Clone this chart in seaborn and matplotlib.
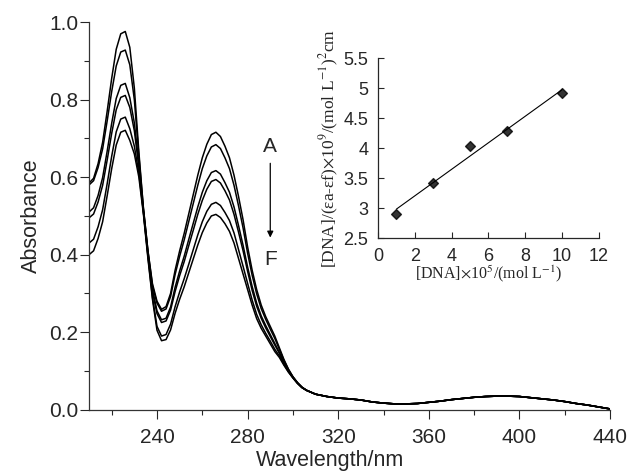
import numpy as np
import pandas as pd
import matplotlib
matplotlib.use('Agg')
import matplotlib.pyplot as plt
from matplotlib.ticker import MultipleLocator, FormatStrFormatter
import seaborn as sns

sns.set_style('ticks')
plt.rcParams['font.family'] = ['Liberation Sans', 'DejaVu Sans']
plt.rcParams['mathtext.fontset'] = 'stix'

# UV spectra, 210-304 nm (each curve) + common tail 306-440 nm
wl_head = [210, 212, 214, 216, 218, 220, 222, 224, 226, 228, 230, 232, 234, 236, 238, 240,
           242, 244, 246, 248, 250, 252, 254, 256, 258, 260, 262, 264, 266, 268, 270, 272,
           274, 276, 278, 280, 282, 284, 286, 288, 290, 292, 294, 296, 298, 300, 302, 304]

abs_A = [0.585, 0.597, 0.635, 0.69, 0.77, 0.855, 0.93, 0.97, 0.976,
         0.935, 0.83, 0.665, 0.52, 0.41, 0.325, 0.28, 0.259,
         0.266, 0.30, 0.36, 0.41, 0.455, 0.505, 0.555, 0.605, 0.65, 0.685, 0.71, 0.716, 0.705,
         0.68, 0.65, 0.605, 0.55, 0.49, 0.42, 0.36, 0.31, 0.27, 0.24, 0.215, 0.19, 0.16, 0.13,
         0.105, 0.085, 0.07, 0.058]
abs_B = [0.58, 0.591, 0.625, 0.673, 0.745, 0.821, 0.887, 0.923, 0.928,
         0.89, 0.80, 0.655, 0.52, 0.41, 0.32, 0.275, 0.254,
         0.26, 0.292, 0.349, 0.396, 0.438, 0.485, 0.532, 0.579, 0.622, 0.655, 0.678, 0.684, 0.674,
         0.65, 0.622, 0.579, 0.526, 0.469, 0.404, 0.347, 0.299, 0.261, 0.233, 0.208, 0.184, 0.156,
         0.128, 0.104, 0.085, 0.07, 0.058]
abs_C = [0.51, 0.521, 0.553, 0.599, 0.667, 0.739, 0.803, 0.837, 0.842,
         0.805, 0.74, 0.635, 0.515, 0.405, 0.31, 0.255, 0.232,
         0.236, 0.265, 0.316, 0.358, 0.396, 0.439, 0.481, 0.523, 0.561, 0.591, 0.612, 0.617, 0.608,
         0.586, 0.561, 0.523, 0.475, 0.424, 0.368, 0.318, 0.275, 0.242, 0.217, 0.194, 0.171, 0.148,
         0.123, 0.101, 0.084, 0.069, 0.058]
abs_D = [0.495, 0.505, 0.536, 0.579, 0.644, 0.713, 0.774, 0.806, 0.811,
         0.78, 0.72, 0.625, 0.51, 0.40, 0.305, 0.248, 0.225,
         0.229, 0.257, 0.305, 0.346, 0.382, 0.423, 0.463, 0.504, 0.54, 0.569, 0.589, 0.594, 0.585,
         0.565, 0.541, 0.504, 0.458, 0.41, 0.357, 0.308, 0.267, 0.236, 0.211, 0.189, 0.167, 0.146,
         0.121, 0.10, 0.083, 0.069, 0.057]
abs_E = [0.43, 0.44, 0.472, 0.516, 0.583, 0.654, 0.717, 0.75, 0.755,
         0.725, 0.68, 0.61, 0.51, 0.395, 0.29, 0.215, 0.19,
         0.194, 0.221, 0.266, 0.304, 0.338, 0.375, 0.413, 0.451, 0.485, 0.512, 0.53, 0.535, 0.527,
         0.509, 0.488, 0.456, 0.413, 0.37, 0.326, 0.283, 0.246, 0.219, 0.197, 0.177, 0.156, 0.139,
         0.117, 0.098, 0.082, 0.068, 0.057]
abs_F = [0.40, 0.41, 0.442, 0.485, 0.552, 0.622, 0.683, 0.716, 0.721,
         0.695, 0.66, 0.60, 0.505, 0.39, 0.285, 0.205, 0.178,
         0.181, 0.206, 0.249, 0.285, 0.317, 0.353, 0.389, 0.425, 0.457, 0.482, 0.50, 0.504, 0.496,
         0.48, 0.46, 0.43, 0.39, 0.35, 0.31, 0.27, 0.235, 0.21, 0.19, 0.17, 0.15, 0.135, 0.115,
         0.097, 0.082, 0.068, 0.057]

wl_tail = [306, 310, 315, 320, 325, 330, 335, 340, 345, 350, 355, 360, 365, 370, 375, 380,
           385, 390, 395, 400, 405, 410, 415, 420, 425, 430, 435, 440]
abs_tail = [0.05, 0.04, 0.034, 0.030, 0.028, 0.025, 0.02, 0.017, 0.015, 0.015, 0.016, 0.019,
            0.022, 0.026, 0.029, 0.032, 0.034, 0.035, 0.035, 0.034, 0.031, 0.028, 0.025, 0.021,
            0.016, 0.012, 0.007, 0.002]

# inset: titration fit
dna_conc = [1, 3, 5, 7, 10]
dna_ratio = [2.91, 3.42, 4.04, 4.28, 4.92]

curves = {'A': abs_A, 'B': abs_B, 'C': abs_C, 'D': abs_D, 'E': abs_E, 'F': abs_F}
frames = []
for name, vals in curves.items():
    frames.append(pd.DataFrame({'wl': wl_head + wl_tail,
                                'absorb': vals + abs_tail,
                                'curve': name}))
spectra = pd.concat(frames, ignore_index=True)

fig = plt.figure(figsize=(6.27, 4.72), dpi=100)
ax = fig.add_axes([0.142, 0.132, 0.831, 0.821])

sns.lineplot(data=spectra, x='wl', y='absorb', hue='curve', units='curve', estimator=None,
             palette=['black'] * 6, linewidth=1.1, legend=False, ax=ax, sort=False)

ax.set_xlim(210, 440)
ax.set_ylim(0, 1.0)
ax.xaxis.set_minor_locator(MultipleLocator(20))
ax.yaxis.set_major_locator(MultipleLocator(0.2))
ax.yaxis.set_minor_locator(MultipleLocator(0.1))
ax.yaxis.set_major_formatter(FormatStrFormatter('%.1f'))
ax.set_xticks([240, 280, 320, 360, 400, 440])
ax.tick_params(which='major', direction='out', length=6.5, width=0.8, labelsize=15)
ax.tick_params(axis='x', which='major', pad=7)
ax.tick_params(axis='y', which='major', pad=1)
ax.tick_params(which='minor', direction='out', length=3.5, width=0.8)
for s in ['top', 'right']:
    ax.spines[s].set_visible(False)
for s in ['left', 'bottom']:
    ax.spines[s].set_linewidth(0.9)
    ax.spines[s].set_color('#333333')
ax.set_xlabel('Wavelength/nm', fontsize=15.5)
ax.xaxis.set_label_coords(0.463, -0.104)
ax.set_ylabel('Absorbance', fontsize=15.5, labelpad=5)

# A -> F arrow
ax.annotate('', xy=(290, 0.437), xytext=(290, 0.643),
            arrowprops=dict(arrowstyle='-|>', color='black', lw=0.9, mutation_scale=9))
ax.text(290, 0.68, 'A', ha='center', va='center', fontsize=15)
ax.text(290, 0.388, 'F', ha='center', va='center', fontsize=15)

# inset
ins = fig.add_axes([0.603, 0.495, 0.352, 0.382])
sns.regplot(x=dna_conc, y=dna_ratio, ci=None, marker='D', color='black', truncate=True,
            scatter_kws={'s': 25}, line_kws={'linewidth': 0.8}, ax=ins)
ins.set_xlim(0, 12)
ins.set_ylim(2.5, 5.5)
ins.set_xticks([0, 2, 4, 6, 8, 10, 12])
ins.set_yticks([2.5, 3, 3.5, 4, 4.5, 5, 5.5])
ins.set_yticklabels(['2.5', '3', '3.5', '4', '4.5', '5', '5.5'])
ins.tick_params(direction='in', length=4, width=0.8, labelsize=13, pad=7)
ins.set_facecolor('none')
for s in ['top', 'right']:
    ins.spines[s].set_visible(False)
for s in ['left', 'bottom']:
    ins.spines[s].set_linewidth(0.9)
ins.set_xlabel(r'[DNA]$\times$10$^{5}$/(mol L$^{-1}$)', family='Liberation Serif',
               fontsize=11.5, labelpad=-1)
ins.set_ylabel(r'[DNA]/(εa-εf)$\times$10$^{9}$/(mol L$^{-1}$)$^{2}$cm', family='Liberation Serif',
               fontsize=12.5, labelpad=2)

fig.savefig('out.png', dpi=100)
